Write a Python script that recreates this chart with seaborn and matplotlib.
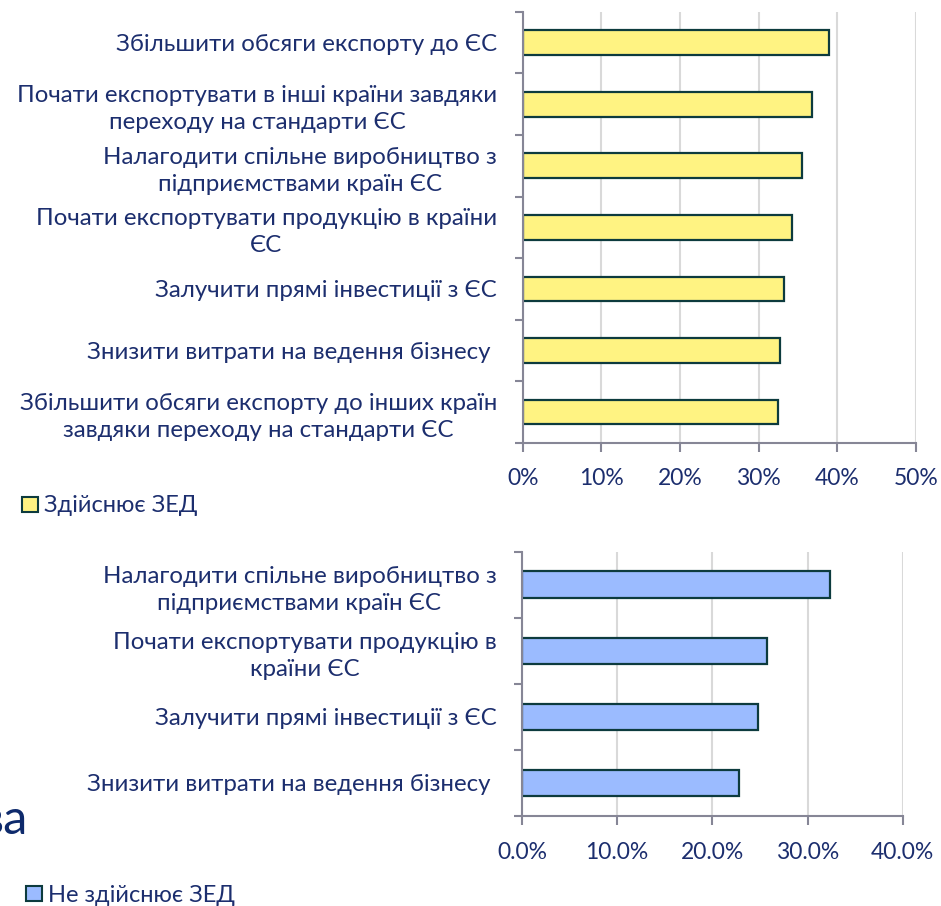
import matplotlib
matplotlib.use("Agg")
import matplotlib.pyplot as plt
import seaborn as sns
import pandas as pd
import numpy as np
from matplotlib.patches import Patch
from matplotlib.ticker import FixedLocator, PercentFormatter

# ---- data ----
top_categories = [
    "Збільшити обсяги експорту до ЄС",
    "Почати експортувати в інші країни завдяки\nпереходу на стандарти ЄС",
    "Налагодити спільне виробництво з\nпідприємствами країн ЄС",
    "Почати експортувати продукцію в країни\nЄС",
    "Залучити прямі інвестиції з ЄС",
    "Знизити витрати на ведення бізнесу ",
    "Збільшити обсяги експорту до інших країн\nзавдяки переходу на стандарти ЄС",
]
top_values = [39.0, 36.8, 35.5, 34.2, 33.2, 32.7, 32.4]
top_ticks = [0, 10, 20, 30, 40, 50]
top_legend = "Здійснює ЗЕД"

bottom_categories = [
    "Налагодити спільне виробництво з\nпідприємствами країн ЄС",
    "Почати експортувати продукцію в\nкраїни ЄС",
    "Залучити прямі інвестиції з ЄС",
    "Знизити витрати на ведення бізнесу ",
]
bottom_values = [32.4, 25.7, 24.8, 22.8]
bottom_ticks = [0, 10, 20, 30, 40]
bottom_legend = "Не здійснює ЗЕД"

# ---- style ----
sns.set_theme(style="white")
plt.rcParams['font.family'] = ['Lato', 'DejaVu Sans']
TEXT = "#1C2E6E"
SPINE = "#868696"
GRID = "#D9D9D9"
EDGE = "#0D3B3E"
YELLOW = "#FFF382"
BLUE = "#9BBBFF"
FS_Y = 17.3
FS_X = 16.5
FS_L = 17

fig = plt.figure(figsize=(9.41, 9.06), dpi=100)
ax1 = fig.add_axes([0.5555, 0.5114, 0.4179, 0.4754])
ax2 = fig.add_axes([0.5547, 0.0993, 0.4046, 0.2918])


def style_axis(ax, cats, vals, color, ticks, fmt_dec):
    df = pd.DataFrame({"cat": cats, "val": vals})
    sns.barplot(data=df, x="val", y="cat", orient="h", color=color,
                edgecolor=EDGE, linewidth=1.6, width=0.4, saturation=1, ax=ax)
    n = len(cats)
    ax.set_ylim(n - 0.5, -0.5)
    ax.set_xlim(ticks[0], ticks[-1])
    ax.set_xlabel("")
    ax.set_ylabel("")
    ax.xaxis.set_major_locator(FixedLocator(ticks))
    ax.xaxis.set_major_formatter(PercentFormatter(decimals=fmt_dec))
    ax.grid(axis="x", color=GRID, linewidth=1.5)
    ax.set_axisbelow(True)
    for s in ["top", "right"]:
        ax.spines[s].set_visible(False)
    for s in ["left", "bottom"]:
        ax.spines[s].set_color(SPINE)
        ax.spines[s].set_linewidth(1.5)
    ax.yaxis.set_minor_locator(FixedLocator(np.arange(-0.5, n, 1.0)))
    ax.tick_params(axis="y", which="major", length=0, pad=18.5, labelsize=FS_Y, labelcolor=TEXT)
    ax.tick_params(axis="y", which="minor", left=True, length=5.5, width=1.5, color=SPINE)
    ax.tick_params(axis="x", which="major", bottom=True, direction="out", length=6.5, width=1.5,
                   color=SPINE, pad=12, labelsize=FS_X, labelcolor=TEXT)
    for lab in ax.get_yticklabels():
        lab.set_multialignment("center")
        lab.set_linespacing(1.35)


style_axis(ax1, top_categories, top_values, YELLOW, top_ticks, 0)
style_axis(ax2, bottom_categories, bottom_values, BLUE, bottom_ticks, 1)

fig.legend(handles=[Patch(facecolor=YELLOW, edgecolor=EDGE, linewidth=1.5)], labels=[top_legend],
           loc="center left", bbox_to_anchor=(22 / 941, 1 - 506 / 906), frameon=False,
           handlelength=0.68, handleheight=0.62, handletextpad=0.25, borderpad=0, borderaxespad=0,
           fontsize=FS_L, labelcolor=TEXT)
fig.legend(handles=[Patch(facecolor=BLUE, edgecolor=EDGE, linewidth=1.5)], labels=[bottom_legend],
           loc="center left", bbox_to_anchor=(26 / 941, 1 - 895 / 906), frameon=False,
           handlelength=0.68, handleheight=0.62, handletextpad=0.25, borderpad=0, borderaxespad=0,
           fontsize=FS_L, labelcolor=TEXT)

fig.text(28 / 941, 1 - 834 / 906, "ва", ha="right", va="baseline", fontsize=35, color="#0E2A6C")

fig.savefig("out.png", dpi=100, facecolor="white")
